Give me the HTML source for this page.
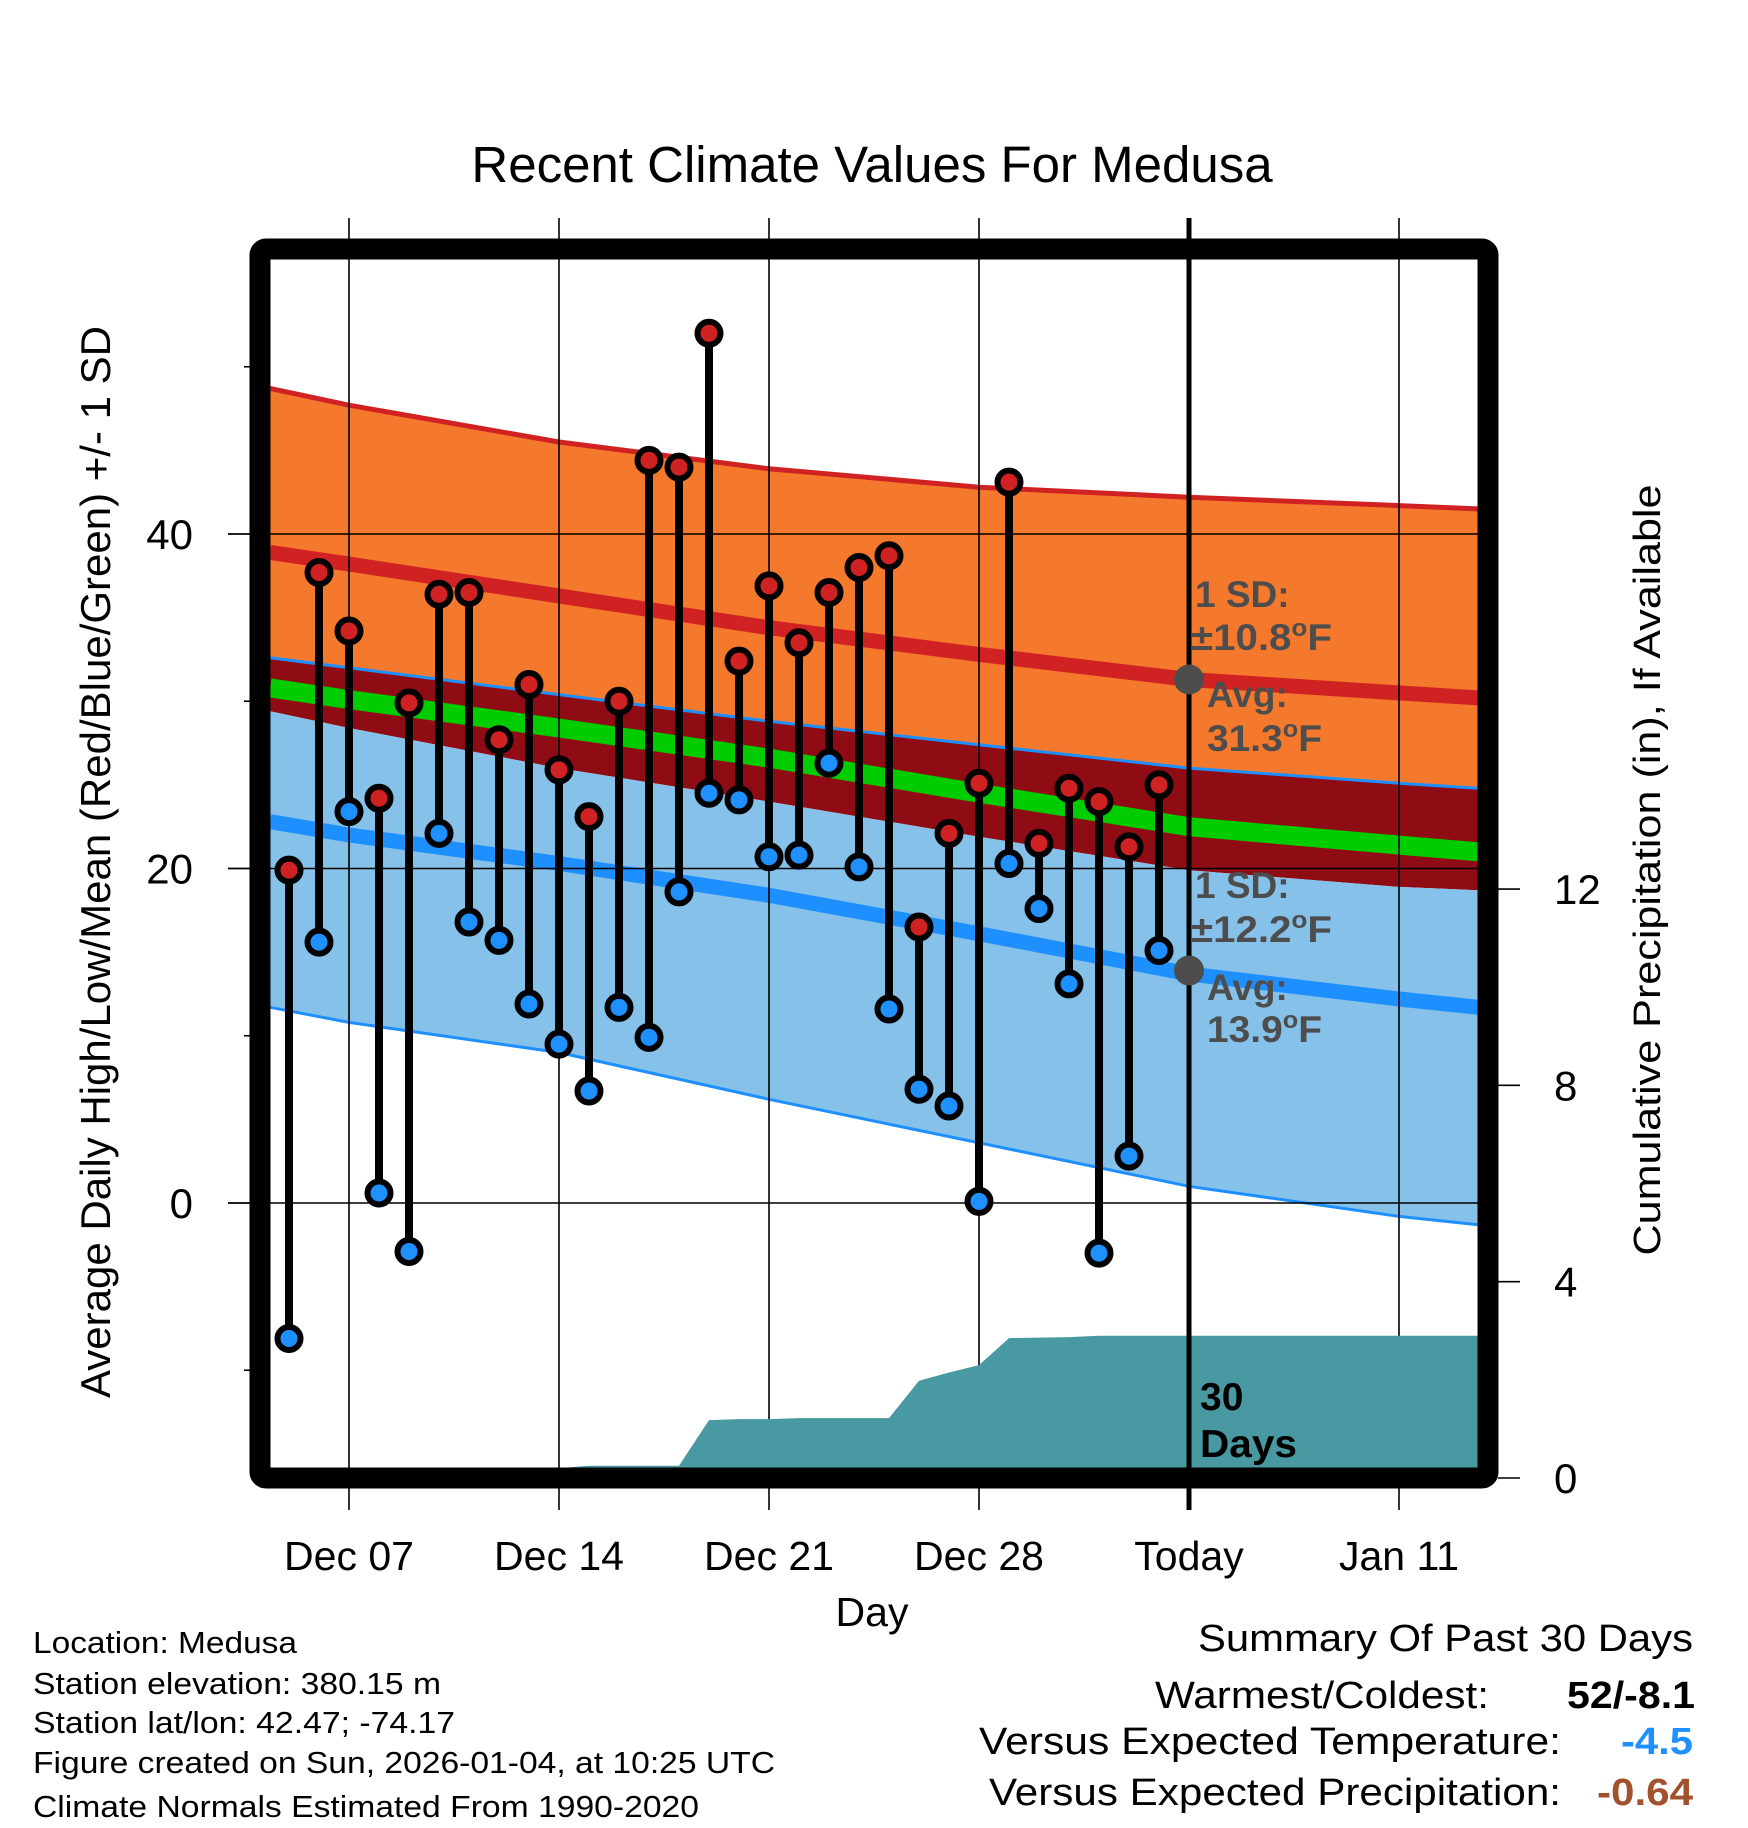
<!DOCTYPE html>
<html><head><meta charset="utf-8"><style>
html,body{margin:0;padding:0;background:#fff}
svg{display:block}
text{font-family:"Liberation Sans",Arial,sans-serif}
</style></head><body>
<svg id="chart" width="1748" height="1828" viewBox="0 0 1748 1828" xmlns="http://www.w3.org/2000/svg">
<defs><clipPath id="plotclip"><rect x="270" y="260" width="1208" height="1208"/></clipPath></defs>
<text x="872" y="182" font-size="51" text-anchor="middle">Recent Climate Values For Medusa</text>
<g id="fills" clip-path="url(#plotclip)"></g>
<g id="grid"></g>
<g id="precip" clip-path="url(#plotclip)"></g>
<g id="today"></g>
<g id="marks" clip-path="url(#plotclip)"></g>
<g id="annot" fill="#4d4d4d" font-weight="bold" font-size="37">
<text x="1195" y="607">1 SD:</text>
<text x="1191" y="650" textLength="141" lengthAdjust="spacingAndGlyphs">±10.8<tspan font-size="24" dy="-14">o</tspan><tspan dy="14">F</tspan></text>
<text x="1207" y="707">Avg:</text>
<text x="1207" y="751" textLength="115" lengthAdjust="spacingAndGlyphs">31.3<tspan font-size="24" dy="-14">o</tspan><tspan dy="14">F</tspan></text>
<text x="1195" y="898">1 SD:</text>
<text x="1191" y="942" textLength="141" lengthAdjust="spacingAndGlyphs">±12.2<tspan font-size="24" dy="-14">o</tspan><tspan dy="14">F</tspan></text>
<text x="1207" y="1000">Avg:</text>
<text x="1207" y="1042" textLength="115" lengthAdjust="spacingAndGlyphs">13.9<tspan font-size="24" dy="-14">o</tspan><tspan dy="14">F</tspan></text>
</g>
<g font-weight="bold" font-size="39" fill="#000">
<text x="1200" y="1410">30</text><text x="1200" y="1457" textLength="97" lengthAdjust="spacingAndGlyphs">Days</text></g>
<rect x="260" y="249" width="1228" height="1229" rx="6" fill="none" stroke="#000" stroke-width="21"/>
<g id="axes"></g>
<text x="872" y="1626" font-size="41" text-anchor="middle">Day</text>
<text transform="translate(110,862) rotate(-90)" font-size="42" text-anchor="middle" textLength="1072" lengthAdjust="spacingAndGlyphs">Average Daily High/Low/Mean (Red/Blue/Green) +/- 1 SD</text>
<text transform="translate(1660,870) rotate(-90)" font-size="38" text-anchor="middle" textLength="771" lengthAdjust="spacingAndGlyphs">Cumulative Precipitation (in), If Available</text>
<g font-size="31">
<text x="33" y="1653" textLength="264" lengthAdjust="spacingAndGlyphs">Location: Medusa</text>
<text x="33" y="1694" textLength="408" lengthAdjust="spacingAndGlyphs">Station elevation: 380.15 m</text>
<text x="33" y="1733" textLength="422" lengthAdjust="spacingAndGlyphs">Station lat/lon: 42.47; -74.17</text>
<text x="33" y="1773" textLength="742" lengthAdjust="spacingAndGlyphs">Figure created on Sun, 2026-01-04, at 10:25 UTC</text>
<text x="33" y="1817" textLength="666" lengthAdjust="spacingAndGlyphs">Climate Normals Estimated From 1990-2020</text>
</g>
<g font-size="38">
<text x="1198" y="1651" textLength="495" lengthAdjust="spacingAndGlyphs">Summary Of Past 30 Days</text>
<text x="1155" y="1708" textLength="334" lengthAdjust="spacingAndGlyphs">Warmest/Coldest:</text>
<text x="1567" y="1708" font-weight="bold" textLength="128" lengthAdjust="spacingAndGlyphs">52/-8.1</text>
<text x="979" y="1754" textLength="582" lengthAdjust="spacingAndGlyphs">Versus Expected Temperature:</text>
<text x="1621" y="1754" font-weight="bold" fill="#1e90ff" textLength="72" lengthAdjust="spacingAndGlyphs">-4.5</text>
<text x="989" y="1805" textLength="572" lengthAdjust="spacingAndGlyphs">Versus Expected Precipitation:</text>
<text x="1597" y="1805" font-weight="bold" fill="#a0522d" textLength="96" lengthAdjust="spacingAndGlyphs">-0.64</text>
</g>
</svg>
<script>
// day index: 0 = Dec 07
const normDays = [-2.63, 0, 7, 14, 21, 28, 35, 37.63];
const hiUp   = [48.7, 47.7, 45.5, 43.9, 42.8, 42.2, 41.7, 41.5];
const hiMean = [38.9, 38.2, 36.3, 34.4, 32.8, 31.3, 30.5, 30.2];
const loUp   = [32.6, 32.0, 30.4, 28.8, 27.4, 26.0, 25.1, 24.8];
const avgMean= [30.8, 30.1, 28.4, 26.6, 24.5, 22.5, 21.4, 21.0];
const hiLow  = [29.4, 28.4, 26.0, 24.0, 21.9, 19.9, 18.9, 18.7];
const loMean = [22.8, 22.0, 20.3, 18.4, 16.1, 13.7, 12.2, 11.7];
const loLow  = [11.7, 10.8, 9.0, 6.2, 3.6, 1.0, -0.8, -1.3];
const obsDays = [-2,-1,0,1,2,3,4,5,6,7,8,9,10,11,12,13,14,15,16,17,18,19,20,21,22,23,24,25,26,27];
const highs = [19.9,37.7,34.2,24.2,29.9,36.4,36.5,27.7,31.0,25.9,23.1,30.0,44.4,44.0,52.0,32.4,36.9,33.5,36.5,38.0,38.7,16.5,22.1,25.1,43.1,21.5,24.8,24.0,21.3,25.0];
const lows  = [-8.1,15.6,23.4,0.6,-2.9,22.1,16.8,15.7,11.9,9.5,6.7,11.7,9.9,18.6,24.5,24.1,20.7,20.8,26.3,20.1,11.6,6.8,5.8,0.1,20.3,17.6,13.1,-3.0,2.8,15.1];
const precipCum = [0.1,0.1,0.1,0.1,0.1,0.1,0.1,0.1,0.1,0.2,0.25,0.25,0.25,0.25,1.18,1.2,1.2,1.22,1.22,1.22,1.22,1.98,2.15,2.3,2.85,2.86,2.87,2.9,2.9,2.9];
const xTickDays = [0,7,14,21,28,35];
const xTickLabels = ["Dec 07","Dec 14","Dec 21","Dec 28","Today","Jan 11"];
const yMajor = [0,20,40];
const yMinor = [-10,10,30,50];
const y2Ticks = [0,4,8,12];
const todayDay = 28;
const todayHiAvg = 31.3, todayLoAvg = 13.9;

const NS = "http://www.w3.org/2000/svg";
const X = d => 349 + 30*d;
const Y = t => 1203 - 16.725*t;
const P = p => 1478 - 49.08*p;
const XL = 270, XR = 1478;
function mk(tag, attrs, parent){const e=document.createElementNS(NS,tag);for(const k in attrs)e.setAttribute(k,attrs[k]);parent.appendChild(e);return e;}
function pts(arr){return arr.map((v,i)=>X(normDays[i]).toFixed(1)+","+Y(v).toFixed(1));}
function band(top,bot,fill,name,g){
  const p = pts(top).concat(pts(bot).reverse());
  const e = mk('polygon',{points:p.join(' '),fill:fill},g);
  
  
}
function line(arr,color,w,name,g){
  const e = mk('polyline',{points:pts(arr).join(' '),fill:'none',stroke:color,'stroke-width':w},g);
  
  
}
const fills = document.getElementById('fills');
band(hiUp, loUp, '#f5792c', 'high-sd-band', fills);
band(loUp, hiLow, '#900c14', 'overlap-band', fills);
band(hiLow, loLow, '#85c1e8', 'low-sd-band', fills);
line(hiUp,'#d02222',5,'high-upper-sd-line',fills);
line(hiMean,'#d02222',15,'high-mean-line',fills);
line(loUp,'#1e8fff',3,'low-upper-sd-line',fills);
line(avgMean,'#00cc00',19,'mean-line',fills);
line(loMean,'#1e8fff',15,'low-mean-line',fills);
line(loLow,'#1e8fff',3,'low-lower-sd-line',fills);

const grid = document.getElementById('grid');
xTickDays.forEach((d,i)=>{
  if(d===todayDay) return;
  const e = mk('line',{x1:X(d),x2:X(d),y1:218,y2:1510,stroke:'#000','stroke-width':1.6},grid);
  
  
});
yMajor.forEach(t=>{
  const e = mk('line',{x1:228,x2:XR,y1:Y(t),y2:Y(t),stroke:'#000','stroke-width':1.6},grid);
  
  
});

const pg = document.getElementById('precip');
let pp = [X(-2.63)+","+P(0), X(-2.63)+","+P(precipCum[0])];
obsDays.forEach((d,i)=>pp.push(X(d)+","+P(precipCum[i]).toFixed(1)));
pp.push(XR+","+P(precipCum[precipCum.length-1]).toFixed(1));
pp.push(XR+","+P(0));
const pe = mk('polygon',{points:pp.join(' '),fill:'#4899a2'},pg);



const tg = document.getElementById('today');
const tl = mk('line',{x1:X(todayDay),x2:X(todayDay),y1:218,y2:1510,stroke:'#000','stroke-width':5},tg);


[todayHiAvg,todayLoAvg].forEach(v=>{
  const c = mk('circle',{cx:X(todayDay),cy:Y(v),r:15,fill:'#4d4d4d'},tg);
  
  
});

const mg = document.getElementById('marks');
obsDays.forEach((d,i)=>{
  const s = mk('line',{x1:X(d),x2:X(d),y1:Y(highs[i]),y2:Y(lows[i]),stroke:'#000','stroke-width':8},mg);
  
  
});
obsDays.forEach((d,i)=>{
  const h = mk('circle',{cx:X(d),cy:Y(highs[i]),r:11.5,fill:'#d02222',stroke:'#000','stroke-width':6},mg);
  
  
  const l = mk('circle',{cx:X(d),cy:Y(lows[i]),r:11.5,fill:'#1e90ff',stroke:'#000','stroke-width':6},mg);
  
  
});

const ax = document.getElementById('axes');
xTickDays.forEach((d,i)=>{
  const t = mk('text',{x:X(d),y:1570,'font-size':41,'text-anchor':'middle'},ax);
  t.textContent = xTickLabels[i];
  
  
});
yMajor.forEach(v=>{
  const k = mk('line',{x1:228,x2:250,y1:Y(v),y2:Y(v),stroke:'#000','stroke-width':1.6},ax);
  
  
  const t = mk('text',{x:193,y:Y(v)+15,'font-size':42,'text-anchor':'end'},ax);
  t.textContent = String(v);
  
  
});
yMinor.forEach(v=>{
  const k = mk('line',{x1:244,x2:250,y1:Y(v),y2:Y(v),stroke:'#000','stroke-width':1.6},ax);
  
  
});
y2Ticks.forEach(v=>{
  const k = mk('line',{x1:1498,x2:1520,y1:P(v),y2:P(v),stroke:'#000','stroke-width':1.6},ax);
  
  
  const t = mk('text',{x:1554,y:P(v)+15,'font-size':42},ax);
  t.textContent = String(v);
  
  
});
</script>
</body></html>
